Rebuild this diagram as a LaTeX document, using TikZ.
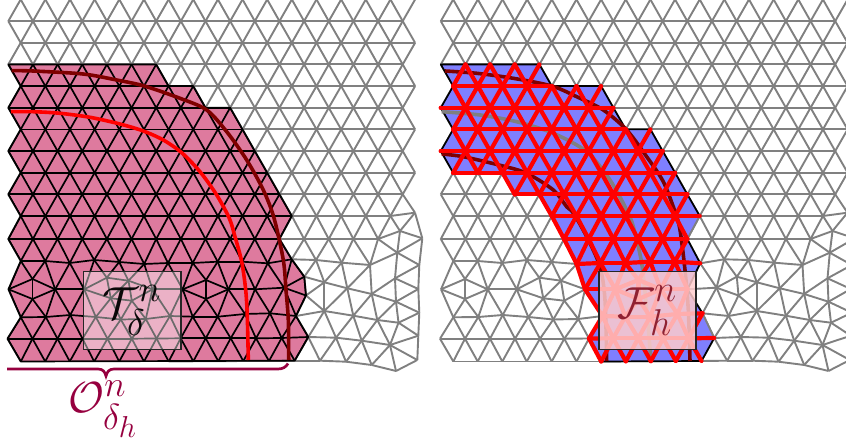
\documentclass[tikz,border=0pt]{standalone}
\usepackage{amsmath}
\definecolor{elempink}{HTML}{DE7A9E}
\definecolor{facetblue}{HTML}{7F7FFF}
\definecolor{bracecolor}{HTML}{96003F}
\definecolor{curvedark}{HTML}{7F0000}
\definecolor{labelred}{HTML}{8B1A2B}

% mesh vertices: rows 0-10 regular, rows 11-16 perturbed
\newcommand{\meshcoords}{
  \foreach \r in {0,...,10} {
    \pgfmathsetmacro\rowx{mod(\r,2)==1 ? 8.3 : 20.7}
    \foreach \k in {0,...,16} \coordinate (v\r-\k) at ({\rowx+24.65*\k},{21.65*\r-0.5});
  }
  \coordinate (v10-16) at (415,212.7);
  \foreach \k in {0,...,15} \coordinate (v11-\k) at ({8.3+24.65*\k},239);
  \coordinate (v11-16) at (400,231);
  \coordinate (v11-17) at (422.3,238.3);
  \foreach \x/\y [count=\k from 0] in {20.8/261,45.2/261,69.8/263,94.2/260,119.2/262,144.2/264,168/263,192.7/263,217.7/261.7,242.3/261.7,267.7/263.3,291.7/259.3,316/260,341.7/262.7,370/265,397.3/252.7,419.3/265}
    \coordinate (v12-\k) at (\x,\y);
  \foreach \x/\y [count=\k from 0] in {8.5/289.3,32.5/279,32.5/299,55.2/289.3,84.2/289.3,106.8/277.7,128.5/280.7,110.8/298.3,131.8/300.7,152.5/289.3,182.7/289.3,206/280,206/299,228.3/289.3,255/289.3,284/287.7,304.3/276.7,306/295.5,324.3/282.3,347.3/288.3,371.7/294,395/278.3,396/301.7,418.3/289}
    \coordinate (v13-\k) at (\x,\y);
  \foreach \x/\y [count=\k from 0] in {20.8/317.3,45.8/317,70.2/315,95.8/317,120.8/319.5,145.8/319,170/316,192.7/316.7,217.7/316.7,245/314,270/313.3,296/316,324.3/311,353.3/315.7,377.3/320,398.5/322.7,419.3/312.7}
    \coordinate (v14-\k) at (\x,\y);
  \foreach \x/\y [count=\k from 0] in {7.5/338.7,32.5/338.7,57.5/338.7,82.5/338.7,107.5/338.7,131.8/338.7,156.5/338.5,180.7/338.3,205.7/338.3,230.7/338.3,256/338.3,281.7/338,308.3/337,336/337.7,361.7/340.7,390/345,418.3/335.7}
    \coordinate (v15-\k) at (\x,\y);
  \foreach \x/\y [count=\k from 0] in {20.8/361.5,45.2/361.5,69.8/361.5,94.2/361.5,119.2/361.5,144/361.5,168.7/361.5,193.3/361.3,218.3/361.2,243.3/361,269/361,294.7/360.7,320/360.7,346/361.7,371.7/365,396/371,417.3/360}
    \coordinate (v16-\k) at (\x,\y);
}

% all edges of the mesh in one style
\newcommand{\drawmesh}[1]{
  \foreach \r/\n in {0/16,1/16,2/16,3/16,4/16,5/16,6/16,7/16,8/16,9/16,10/16,11/17,12/16,14/16,15/16,16/16}
    \foreach \k in {1,...,\n} {
      \pgfmathtruncatemacro\j{\k-1}
      \draw[#1] (v\r-\j) -- (v\r-\k);
    }
  \foreach \o/\e/\na/\nb in {1/0/16/16,1/2/16/16,3/2/16/16,3/4/16/16,5/4/16/16,5/6/16/16,7/6/16/16,7/8/16/16,9/8/16/16,9/10/16/16,11/10/16/16,11/12/15/15,15/14/16/16,15/16/16/15} {
    \foreach \k in {0,...,\na} \draw[#1] (v\o-\k) -- (v\e-\k);
    \foreach \k in {1,...,\nb} {
      \pgfmathtruncatemacro\j{\k-1}
      \draw[#1] (v\o-\k) -- (v\e-\j);
    }
  }
  \foreach \p/\q in {11-17/10-16,11-16/12-15,11-17/12-15,11-17/12-16,15-15/16-16,
    13-0/12-0,13-1/12-0,13-1/12-1,13-3/12-1,13-3/12-2,13-4/12-2,13-4/12-3,13-5/12-3,13-5/12-4,13-6/12-4,13-6/12-5,13-9/12-5,13-9/12-6,13-10/12-6,13-10/12-7,13-11/12-7,13-11/12-8,13-13/12-8,13-13/12-9,13-14/12-9,13-14/12-10,13-15/12-10,13-15/12-11,13-16/12-11,13-16/12-12,13-18/12-12,13-18/12-13,13-19/12-13,13-19/12-14,13-20/12-14,13-21/12-15,13-21/12-16,13-23/12-16,
    13-0/13-1,13-0/13-2,13-1/13-2,13-1/13-3,13-2/13-3,13-3/13-4,13-4/13-5,13-4/13-7,13-5/13-6,13-5/13-7,13-7/13-6,13-6/13-8,13-7/13-8,13-8/13-9,13-6/13-9,13-9/13-10,13-10/13-11,13-10/13-12,13-11/13-12,13-11/13-13,13-12/13-13,13-13/13-14,13-14/13-15,13-15/13-16,13-15/13-17,13-16/13-17,13-16/13-18,13-17/13-18,13-18/13-19,13-19/13-20,13-20/13-21,13-20/13-22,13-21/13-22,13-21/13-23,13-22/13-23,
    13-0/14-0,13-2/14-0,13-2/14-1,13-3/14-1,13-3/14-2,13-4/14-2,13-4/14-3,13-7/14-3,13-7/14-4,13-8/14-4,13-8/14-5,13-9/14-5,13-9/14-6,13-10/14-6,13-10/14-7,13-12/14-7,13-12/14-8,13-13/14-8,13-13/14-9,13-14/14-9,13-14/14-10,13-15/14-10,13-15/14-11,13-17/14-11,13-17/14-12,13-18/14-12,13-19/14-12,13-19/14-13,13-20/14-13,13-20/14-14,13-22/14-14,13-22/14-15,13-22/14-16,13-23/14-16}
    \draw[#1] (v\p) -- (v\q);
}

\newcommand{\elempath}{(v3-0) -- (v3-6) -- (v4-6) -- (v4-7) -- (v5-8) -- (v5-9) -- (v10-11) -- (v11-11) -- (v12-11) -- (v13-16) -- (v13-17) -- (v14-11) -- (v15-12) -- (v16-11) -- (v16-0) -- (v15-0) -- (v14-0) -- (v13-0) -- (v12-0) -- (v11-0) -- (v10-0) -- (v9-0) -- (v8-0) -- (v7-0) -- (v6-0) -- (v5-0) -- (v4-0) -- cycle}

\begin{document}
\begin{tikzpicture}[
    x=1pt, y=-1pt,
    meshline/.style={draw=gray, line width=1.9pt},
    elemline/.style={draw=black, line width=1.7pt, line cap=round},
    facet/.style={draw=red, line width=4.2pt, line cap=round},
    bigcurve/.style={line width=3.6pt},
    labelbox/.style={rectangle, draw=black!85, line width=1.8pt, draw opacity=1, minimum width=54pt, minimum height=43.4pt, inner sep=0pt, text opacity=0.95, scale=1.8, font=\Huge}
]
\useasboundingbox (0,0) rectangle (846,443);
\clip (0,0) rectangle (846,443);

% Left mesh
\meshcoords
\drawmesh{meshline}
\fill[elempink] \elempath;
\begin{scope}
    \clip \elempath;
    \drawmesh{elemline}
\end{scope}
\draw[elemline, line join=round] \elempath;

% Curves
\draw[curvedark, bigcurve] plot[smooth] coordinates {(11.7,70.7) (33,71) (83,74) (116.7,80) (144.3,86) (180,98.3) (206.7,110) (226.7,131.7) (246.7,160) (263.3,190) (274,218) (283.3,260) (286,290) (288.3,320) (288.7,360)};
\draw[red, bigcurve] plot[smooth] coordinates {(11,111.7) (33.3,111.7) (60,113.3) (90,117.3) (120,124) (143.3,131) (163.3,140) (181.7,152.7) (200,171.7) (216.7,195) (229.3,218.3) (235,236.7) (241.7,261.7) (245.7,290) (247.3,316.7) (248.3,360)};

\node[labelbox, fill=white, fill opacity=0.42, text=black] (elembox) at (132,310.5) {$\mathcal{T}_\delta^n$};

% Brace
\draw[bracecolor, line width=2.7pt] (7,369) -- (98,369) .. controls (103,369) and (105,372) .. (106,376) .. controls (107,372) and (109,369) .. (114,369) -- (278,369) .. controls (283,369) and (286,367) .. (288,363.5);
\node[text=bracecolor, scale=1.75, font=\Huge] (omegalabel) at (103,409.5) {$\mathcal{O}_{\delta_h}^n$};

% Right mesh
\begin{scope}[xshift=432.5pt]
    \meshcoords
    \drawmesh{meshline}
    \fill[facetblue] (v3-0) -- (v3-4) -- (v4-4) -- (v4-6) -- (v5-7) -- (v6-7) -- (v6-8) -- (v7-9) -- (v8-9) -- (v9-10) -- (v10-10) -- (v11-10) -- (v12-10) -- (v13-14) -- (v14-10) -- (v15-11) -- (v16-10) -- (v16-6) -- (v15-6) -- (v14-6) -- (v13-9) -- (v12-5) -- (v11-5) -- (v10-4) -- (v9-4) -- (v9-3) -- (v8-2) -- (v8-0) -- (v7-0) -- (v6-0) -- (v5-0) -- (v4-0) -- cycle;
    \draw[meshline] (v10-10) -- (v11-10) (v14-10) -- (v15-11);
    \draw[elemline, line join=round] (v8-0) -- (v7-0) -- (v6-0) -- (v5-0) -- (v4-0) -- (v3-0) -- (v3-4) -- (v4-4) -- (v4-6) -- (v5-7) -- (v6-7) -- (v6-8) -- (v7-9) -- (v8-9) -- (v9-10) -- (v10-10);
    \draw[elemline, line join=round] (v11-10) -- (v12-10) -- (v13-14) -- (v14-10);
    \draw[elemline, line join=round] (v15-11) -- (v16-10) -- (v16-6);
\end{scope}

\draw[gray, bigcurve] plot[smooth] coordinates {(441.7,111.7) (480,115) (516.7,121.7) (553.3,133.3) (586.7,151.7) (610,180) (626.7,210) (633.3,226.7) (641.7,263.3) (646.7,310) (651,361)};
\draw[curvedark, bigcurve] plot[smooth] coordinates {(445,71) (476.7,73.3) (513.3,78.3) (551.7,86) (576.7,96.7) (603.3,110) (626.7,130) (646.7,156.7) (663.3,181.7) (675,211.7) (680,230) (685,270) (688.3,310) (690,361)};
\draw[curvedark, bigcurve] plot[smooth] coordinates {(441.7,154) (463.3,156.7) (501.7,165.7) (526.7,173.3) (553.3,190) (566.7,206.7) (573.3,213) (586.7,236.7) (600,266.7) (605,300) (606.7,361)};

% Facets
\foreach \r/\a/\b in {4/0/4,5/0/7,6/0/7,7/0/9,8/0/9,9/3/10,10/4/10,11/5/10,12/5/10,14/6/10,15/6/11}
    \foreach \k in {\a,...,\b} {
        \pgfmathtruncatemacro\j{max(\k-1,\a)}
        \draw[facet] (v\r-\j) -- (v\r-\k);
    }
\foreach \o/\e/\a/\b/\c/\d in {3/4/1/3/1/4,5/4/1/6/1/6,5/6/1/6/1/7,7/6/1/8/1/8,7/8/1/8/1/9,9/8/3/9/3/9,9/10/4/9/5/10,11/10/5/9/5/10,11/12/5/9/6/10,15/14/6/10/7/10,15/16/6/10/7/10} {
    \foreach \k in {\a,...,\b} \draw[facet] (v\o-\k) -- (v\e-\k);
    \foreach \k in {\c,...,\d} {
        \pgfmathtruncatemacro\j{\k-1}
        \draw[facet] (v\o-\k) -- (v\e-\j);
    }
}
\foreach \p/\q in {12-5/13-9,12-6/13-9,12-6/13-10,12-7/13-10,12-7/13-11,12-8/13-11,12-8/13-13,12-9/13-13,12-9/13-14,13-9/13-10,13-10/13-11,13-10/13-12,13-11/13-12,13-11/13-13,13-12/13-13,13-13/13-14,13-9/14-6,13-10/14-6,13-10/14-7,13-12/14-7,13-12/14-8,13-13/14-8,13-13/14-9,13-14/14-9}
    \draw[facet] (v\p) -- (v\q);

\node[labelbox, fill=pink!80!white, fill opacity=0.85, text=labelred] (facetbox) at (647.5,310.5) {$\mathcal{F}_h^n$};

\end{tikzpicture}
\end{document}
